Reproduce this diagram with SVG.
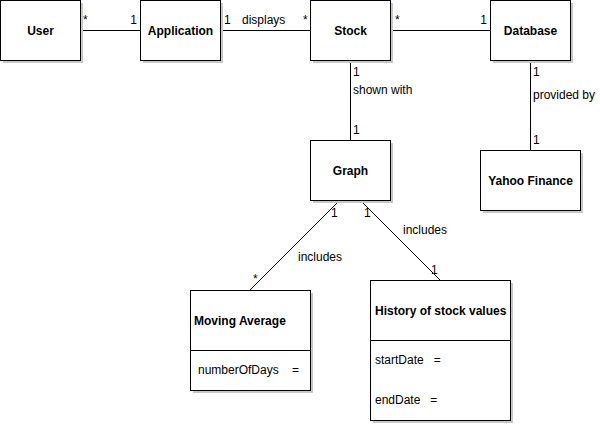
<svg xmlns="http://www.w3.org/2000/svg" width="600" height="425" viewBox="0 0 600 425">
<style>
.box{fill:#fff;stroke:#000;stroke-width:1}
.sh{fill:#c8c8c8}
.t{font-family:"Liberation Sans",Arial,sans-serif;font-size:12px;font-weight:bold;fill:#000}
.l{font-family:"Liberation Sans",Arial,sans-serif;font-size:12px;fill:#000}
.c{stroke:#000;stroke-width:1;fill:none}
</style>
<rect width="600" height="425" fill="#fff"/>
<g id="connectors">
<line class="c" x1="80" y1="30.5" x2="140" y2="30.5"/>
<line class="c" x1="220" y1="30.5" x2="310" y2="30.5"/>
<line class="c" x1="390" y1="30.5" x2="490" y2="30.5"/>
<line class="c" x1="350.5" y1="60" x2="350.5" y2="140"/>
<line class="c" x1="530.5" y1="60" x2="530.5" y2="150"/>
<line class="c" x1="340" y1="200" x2="250" y2="290"/>
<line class="c" x1="360" y1="200" x2="440" y2="280"/>
<text class="l" x="83" y="24">*</text>
<text class="l" x="137" y="24" text-anchor="end">1</text>
<text class="l" x="224" y="24">1</text>
<text class="l" x="242" y="24">displays</text>
<text class="l" x="303" y="24">*</text>
<text class="l" x="395" y="24">*</text>
<text class="l" x="487" y="24" text-anchor="end">1</text>
<text class="l" x="353" y="76">1</text>
<text class="l" x="353" y="94">shown with</text>
<text class="l" x="353" y="134">1</text>
<text class="l" x="533" y="76">1</text>
<text class="l" x="533" y="99">provided by</text>
<text class="l" x="533" y="144">1</text>
<text class="l" x="331" y="217">1</text>
<text class="l" x="364" y="217">1</text>
<text class="l" x="403" y="234">includes</text>
<text class="l" x="298" y="261">includes</text>
<text class="l" x="253" y="283">*</text>
<text class="l" x="431" y="274">1</text>
</g>
<g id="user">
<rect class="sh" x="3" y="3" width="80" height="60"/>
<rect class="box" x="0.5" y="0.5" width="80" height="60"/>
<text class="t" x="40.5" y="35" text-anchor="middle">User</text>
</g>
<g id="application">
<rect class="sh" x="143" y="3" width="80" height="60"/>
<rect class="box" x="140.5" y="0.5" width="80" height="60"/>
<text class="t" x="180.5" y="35" text-anchor="middle">Application</text>
</g>
<g id="stock">
<rect class="sh" x="313" y="3" width="80" height="60"/>
<rect class="box" x="310.5" y="0.5" width="80" height="60"/>
<text class="t" x="350.5" y="35" text-anchor="middle">Stock</text>
</g>
<g id="database">
<rect class="sh" x="493" y="3" width="80" height="60"/>
<rect class="box" x="490.5" y="0.5" width="80" height="60"/>
<text class="t" x="530.5" y="35" text-anchor="middle">Database</text>
</g>
<g id="graph">
<rect class="sh" x="313" y="143" width="80" height="60"/>
<rect class="box" x="310.5" y="140.5" width="80" height="60"/>
<text class="t" x="350.5" y="175" text-anchor="middle">Graph</text>
</g>
<g id="yahoo">
<rect class="sh" x="483" y="153" width="100" height="60"/>
<rect class="box" x="480.5" y="150.5" width="100" height="60"/>
<text class="t" x="530.5" y="185" text-anchor="middle">Yahoo Finance</text>
</g>
<g id="moving-average">
<rect class="sh" x="193" y="293" width="120" height="100"/>
<rect class="box" x="190.5" y="290.5" width="120" height="100"/>
<line class="c" x1="190.5" y1="350.5" x2="310.5" y2="350.5"/>
<text class="t" x="194" y="325">Moving Average</text>
<text class="l" x="198" y="374" xml:space="preserve">numberOfDays    =</text>
</g>
<g id="history">
<rect class="sh" x="373" y="283" width="140" height="140"/>
<rect class="box" x="370.5" y="280.5" width="140" height="140"/>
<line class="c" x1="370.5" y1="340.5" x2="510.5" y2="340.5"/>
<text class="t" x="375" y="315">History of stock values</text>
<text class="l" x="375" y="364" xml:space="preserve">startDate   =</text>
<text class="l" x="375" y="404" xml:space="preserve">endDate   =</text>
</g>
</svg>
